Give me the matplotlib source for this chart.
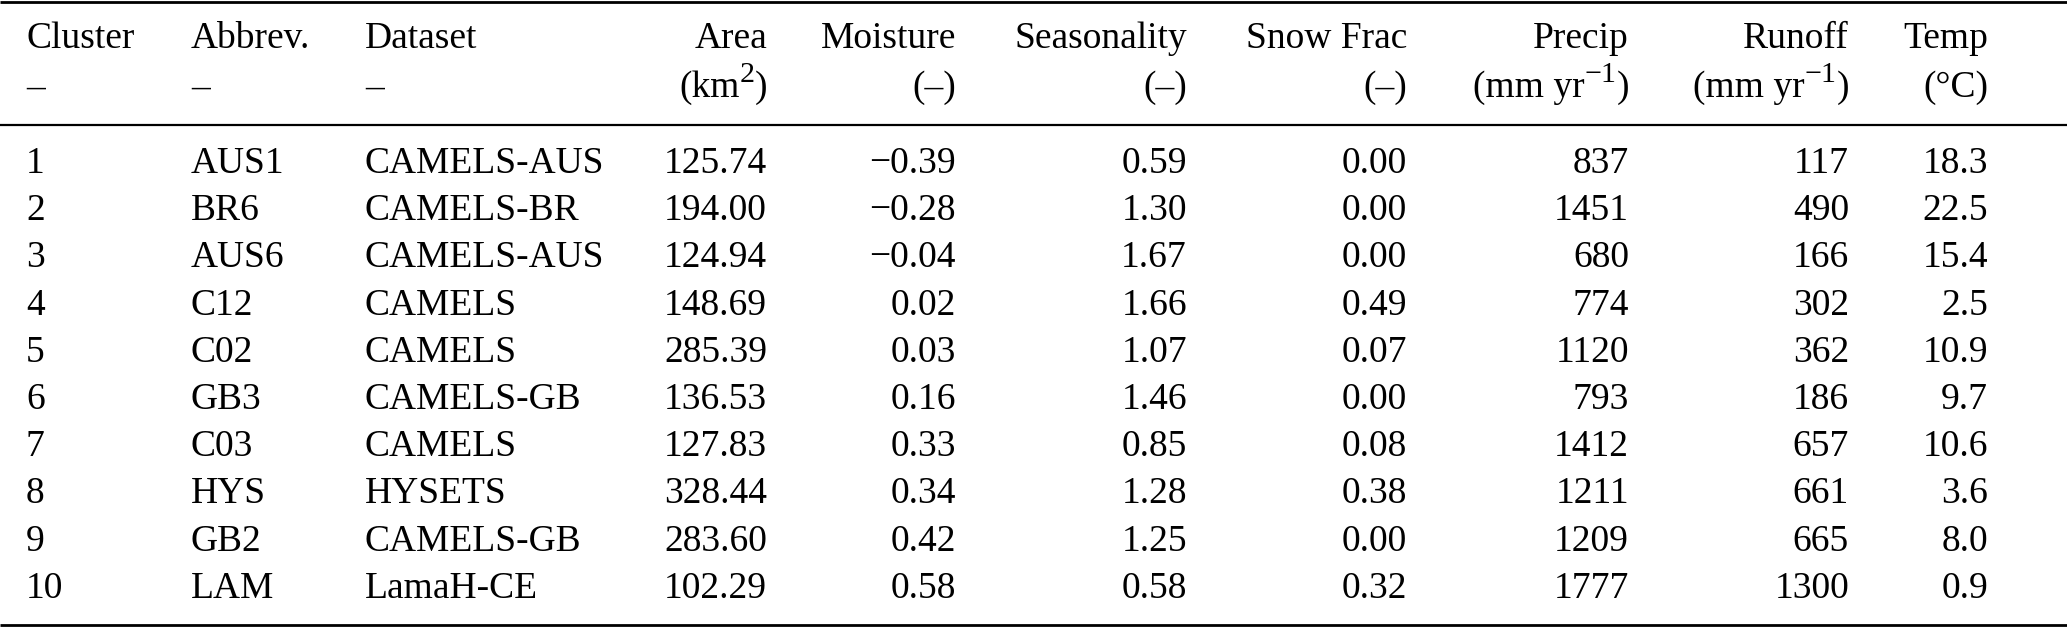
import matplotlib
matplotlib.use("Agg")
import matplotlib.pyplot as plt

plt.rcParams['font.family'] = ['Liberation Serif', 'DejaVu Serif']

# ---- data ----
headers1 = ["Cluster", "Abbrev.", "Dataset", "Area", "Moisture", "Seasonality",
            "Snow Frac", "Precip", "Runoff", "Temp"]
# each unit label: list of (text, is_superscript)
headers2 = [
    [("\u2013", False)],
    [("\u2013", False)],
    [("\u2013", False)],
    [("(km", False), ("2", True), (")", False)],
    [("(\u2013)", False)],
    [("(\u2013)", False)],
    [("(\u2013)", False)],
    [("(mm yr", False), ("\u22121", True), (")", False)],
    [("(mm yr", False), ("\u22121", True), (")", False)],
    [("(\u00b0C)", False)],
]
cluster = [1, 2, 3, 4, 5, 6, 7, 8, 9, 10]
abbrev = ["AUS1", "BR6", "AUS6", "C12", "C02", "GB3", "C03", "HYS", "GB2", "LAM"]
dataset = ["CAMELS-AUS", "CAMELS-BR", "CAMELS-AUS", "CAMELS", "CAMELS", "CAMELS-GB",
           "CAMELS", "HYSETS", "CAMELS-GB", "LamaH-CE"]
area = [125.74, 194.00, 124.94, 148.69, 285.39, 136.53, 127.83, 328.44, 283.60, 102.29]
moisture = [-0.39, -0.28, -0.04, 0.02, 0.03, 0.16, 0.33, 0.34, 0.42, 0.58]
seasonality = [0.59, 1.30, 1.67, 1.66, 1.07, 1.46, 0.85, 1.28, 1.25, 0.58]
snow_frac = [0.00, 0.00, 0.00, 0.49, 0.07, 0.00, 0.08, 0.38, 0.00, 0.32]
precip = [837, 1451, 680, 774, 1120, 793, 1412, 1211, 1209, 1777]
runoff = [117, 490, 166, 302, 362, 186, 657, 661, 665, 1300]
temp = [18.3, 22.5, 15.4, 2.5, 10.9, 9.7, 10.6, 3.6, 8.0, 0.9]

def fmt(v, d):
    s = f"{abs(v):.{d}f}"
    return ("\u2212" + s) if v < 0 else s

columns = [
    [str(c) for c in cluster],
    abbrev,
    dataset,
    [fmt(v, 2) for v in area],
    [fmt(v, 2) for v in moisture],
    [fmt(v, 2) for v in seasonality],
    [fmt(v, 2) for v in snow_frac],
    [str(v) for v in precip],
    [str(v) for v in runoff],
    [fmt(v, 1) for v in temp],
]

# ---- layout (pixel units) ----
W, H = 2067, 627
col_x = [26, 191, 365, 767, 956, 1187, 1407, 1629, 1849, 1988]
col_ha = ['left', 'left', 'left', 'right', 'right', 'right', 'right', 'right', 'right', 'right']
hdr_y1, hdr_y2 = 48, 97
row_y0, row_dy = 173, 47.2
fs = 27
sup_scale, sup_raise = 0.8, 15

fig = plt.figure(figsize=(W / 100, H / 100), dpi=100)
ax = fig.add_axes([0, 0, 1, 1])
ax.set_xlim(0, W)
ax.set_ylim(H, 0)
ax.axis('off')
renderer = fig.canvas.get_renderer()

def place(x0, y, pieces, ha):
    seq = list(reversed(pieces)) if ha == 'right' else list(pieces)
    x = x0
    for txt, sup in seq:
        size = fs * sup_scale if sup else fs
        yy = y - sup_raise if sup else y
        t = ax.text(x, yy, txt, ha=ha, va='baseline', fontsize=size)
        w = t.get_window_extent(renderer).width
        x = x - w if ha == 'right' else x + w

for j in range(len(headers1)):
    ax.text(col_x[j], hdr_y1, headers1[j], ha=col_ha[j], va='baseline', fontsize=fs)
    place(col_x[j], hdr_y2, headers2[j], col_ha[j])
    for i, val in enumerate(columns[j]):
        ax.text(col_x[j], row_y0 + i * row_dy, val, ha=col_ha[j], va='baseline', fontsize=fs)

ax.hlines([1.5, 624.5], 0, W, colors='black', linewidth=2.0)
ax.hlines([125], 0, W, colors='black', linewidth=1.6)

fig.savefig("out.png", dpi=100)
